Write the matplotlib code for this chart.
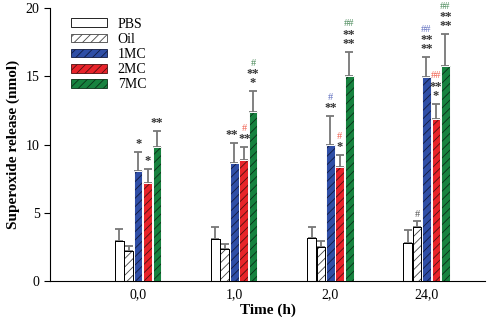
import matplotlib
matplotlib.use("Agg")
import matplotlib.pyplot as plt
import numpy as np

plt.rcParams['font.family'] = ['Liberation Serif', 'DejaVu Serif']
plt.rcParams['hatch.linewidth'] = 0.6

times = ["0,0", "1,0", "2,0", "24,0"]
series = ["PBS", "Oil", "1MC", "2MC", "7MC"]
means = {
    "PBS": [2.93, 3.08, 3.15, 2.78],
    "Oil": [2.2, 2.34, 2.49, 3.96],
    "1MC": [8.06, 8.65, 10.0, 14.95],
    "2MC": [7.18, 8.86, 8.35, 11.9],
    "7MC": [9.8, 12.4, 15.0, 15.75],
}
errs = {
    "PBS": [0.85, 0.87, 0.81, 0.96],
    "Oil": [0.4, 0.36, 0.41, 0.44],
    "1MC": [1.39, 1.45, 2.1, 1.45],
    "2MC": [1.02, 0.94, 0.85, 1.1],
    "7MC": [1.2, 1.5, 1.8, 2.35],
}
colors = {"PBS": "white", "Oil": "white", "1MC": "#2f4ea6", "2MC": "#e8232a", "7MC": "#17823f"}
hatches = {"PBS": None, "Oil": "////", "1MC": "////", "2MC": "////", "7MC": "////"}
hatch_colors = {"PBS": "black", "Oil": "#444444", "1MC": "#101a40", "2MC": "#501010", "7MC": "#0a3018"}

# annotations: (group index, series, star lines (bottom->top), hash text, hash color)
annots = [
    (0, "1MC", ["*"], None, None),
    (0, "2MC", ["*"], None, None),
    (0, "7MC", ["**"], None, None),
    (1, "1MC", ["**"], None, None),
    (1, "2MC", ["**"], "#", "#f06050"),
    (1, "7MC", ["*", "**"], "#", "#4a8a5a"),
    (2, "1MC", ["**"], "#", "#6070c0"),
    (2, "2MC", ["*"], "#", "#f06050"),
    (2, "7MC", ["**", "**"], "##", "#4a8a5a"),
    (3, "Oil", [], "#", "#555555"),
    (3, "1MC", ["**", "**"], "##", "#6070c0"),
    (3, "2MC", ["*", "**"], "##", "#f06050"),
    (3, "7MC", ["**", "**"], "##", "#4a8a5a"),
]

fig = plt.figure(figsize=(4.9, 3.17), dpi=100)
ax = fig.add_axes([0.102, 0.1136, 0.888, 0.861])

x = np.arange(len(times))
w = 0.09
step = 0.098
handles = []
for i, s in enumerate(series):
    xs = x + (i - 2) * step
    bars = ax.bar(xs, means[s], width=w, color=colors[s], edgecolor=hatch_colors[s],
                  hatch=hatches[s], linewidth=0.6, label=s, zorder=2)
    ax.errorbar(xs, means[s], yerr=[np.zeros(len(times)), errs[s]], fmt='none',
                ecolor='#777777', elinewidth=1.3, capsize=3, capthick=1.3, zorder=1)
    ax.bar(xs, means[s], width=w, fill=False,
           edgecolor='black' if s in ("PBS", "Oil") else 'white',
           linewidth=0.7, zorder=3)
    handles.append(bars)

ax.set_xlim(-0.917, 3.61)
ax.set_ylim(0, 20)

fig.canvas.draw()
renderer = fig.canvas.get_renderer()
inv = ax.transData.inverted()

for g, s, stars, hsh, hcol in annots:
    i = series.index(s)
    xc = x[g] + (i - 2) * step
    if g == 1 and s == "1MC":
        xc -= 0.03
    if g == 1 and s == "2MC":
        xc += 0.012
    y = means[s][g] + errs[s][g] + 0.15
    if stars:
        txt = "\n".join(reversed(stars))
        t = ax.text(xc, y, txt, ha='center', va='bottom', fontsize=9, color='#333333',
                    fontweight='bold', linespacing=0.66)
        bb = t.get_window_extent(renderer)
        y = inv.transform((0, bb.y1))[1] + 0.02
    if hsh:
        ax.text(xc, y, hsh, ha='center', va='bottom', fontsize=7.5, color=hcol)

ax.set_xticks(x)
ax.set_xticklabels(times, fontsize=10)
ax.tick_params(axis='x', length=0, pad=5)
ax.set_yticks([0, 5, 10, 15, 20])
ax.tick_params(axis='y', labelsize=10, direction='out', length=4)
ax.spines['top'].set_visible(False)
ax.spines['right'].set_visible(False)
ax.set_xlabel("Time (h)", fontsize=11, fontweight='bold', labelpad=2)
ax.set_ylabel("Superoxide release (nmol)", fontsize=11, fontweight='bold')

leg = ax.legend(handles=handles, labels=series, loc='upper left', bbox_to_anchor=(0.025, 1.0),
                frameon=False, fontsize=10, handlelength=2.6, handleheight=0.6,
                labelspacing=0.15, borderaxespad=0.3)

fig.savefig("out.png", dpi=100)
